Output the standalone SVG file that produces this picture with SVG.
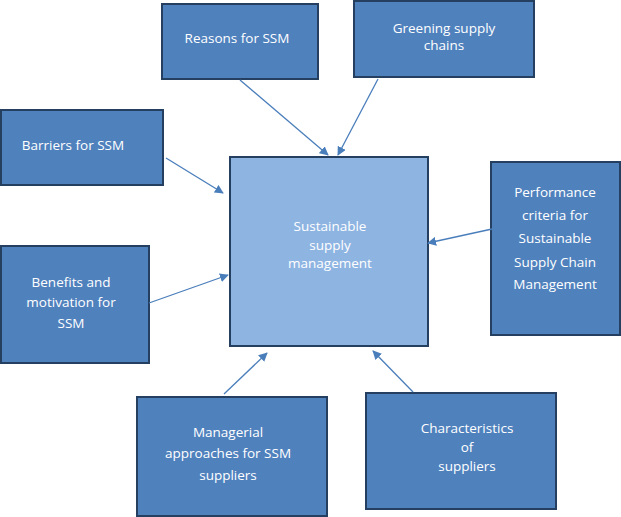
<svg xmlns="http://www.w3.org/2000/svg" width="621" height="517" viewBox="0 0 621 517">
<style>
.box{fill:#4f81bd;stroke:#243f60;stroke-width:2}
.ctr{fill:#8eb4e2;stroke:#243f60;stroke-width:2}
text{font-family:"Open Sans","Liberation Sans",sans-serif;font-size:13.5px;fill:#ffffff;text-anchor:middle}
.conn line{stroke:#4a7ebb;stroke-width:1.3;marker-end:url(#ah)}
</style>
<defs>
<marker id="ah" viewBox="0 0 10 10" refX="9" refY="5" markerWidth="9" markerHeight="9" markerUnits="userSpaceOnUse" orient="auto">
<path d="M0,0 L10,5 L0,10 Z" fill="#4a7ebb"/>
</marker>
</defs>
<rect width="621" height="517" fill="#ffffff"/>
<g id="center">
<rect class="ctr" x="230" y="157" width="198" height="189"/>
<text x="330" y="231">Sustainable</text>
<text x="330" y="250">supply</text>
<text x="330" y="268">management</text>
</g>
<g id="reasons">
<rect class="box" x="162" y="4" width="156" height="75"/>
<text x="237" y="43">Reasons for SSM</text>
</g>
<g id="greening">
<rect class="box" x="354" y="1" width="180" height="76"/>
<text x="444" y="33">Greening supply</text>
<text x="444" y="50">chains</text>
</g>
<g id="barriers">
<rect class="box" x="1" y="110" width="162" height="75"/>
<text x="73" y="150">Barriers for SSM</text>
</g>
<g id="performance">
<rect class="box" x="491" y="162" width="129" height="173"/>
<text x="555" y="197">Performance</text>
<text x="555" y="220">criteria for</text>
<text x="555" y="243">Sustainable</text>
<text x="555" y="267">Supply Chain</text>
<text x="555" y="289">Management</text>
</g>
<g id="benefits">
<rect class="box" x="1" y="246" width="148" height="117"/>
<text x="71" y="287">Benefits and</text>
<text x="71" y="307">motivation for</text>
<text x="71" y="328">SSM</text>
</g>
<g id="managerial">
<rect class="box" x="137" y="397" width="190" height="119"/>
<text x="228" y="437">Managerial</text>
<text x="228" y="458">approaches for SSM</text>
<text x="228" y="480">suppliers</text>
</g>
<g id="characteristics">
<rect class="box" x="366" y="393" width="190" height="116"/>
<text x="467" y="433">Characteristics</text>
<text x="467" y="452">of</text>
<text x="467" y="471">suppliers</text>
</g>
<g class="conn">
<line x1="240" y1="80" x2="328" y2="155"/>
<line x1="378" y1="79" x2="338" y2="155"/>
<line x1="166" y1="158" x2="223" y2="193"/>
<line x1="149" y1="303" x2="228" y2="275"/>
<line x1="492" y1="229" x2="428" y2="243"/>
<line x1="224" y1="394" x2="267" y2="353"/>
<line x1="413" y1="392" x2="373" y2="351"/>
</g>
</svg>
